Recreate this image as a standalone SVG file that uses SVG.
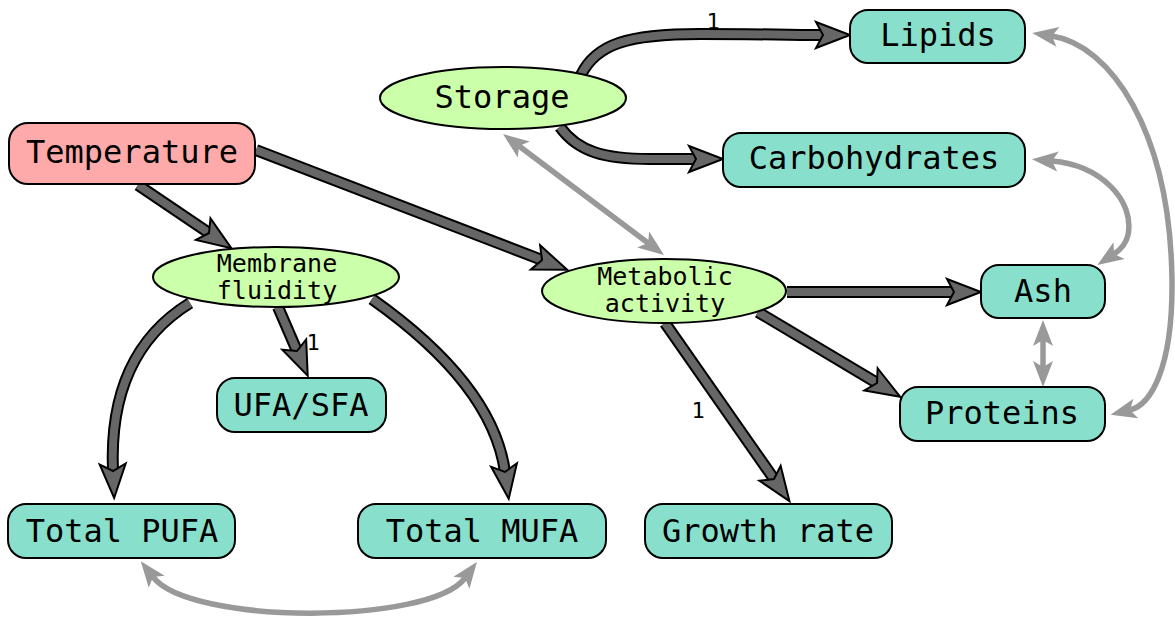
<svg xmlns="http://www.w3.org/2000/svg" width="1175" height="629" viewBox="0 0 1175 629">
<style>
.box{fill:#88e0cc;stroke:#000;stroke-width:2}
.temp{fill:#ffaaaa;stroke:#000;stroke-width:2}
.ell{fill:#ccffaa;stroke:#000;stroke-width:2}
.t{font-family:"DejaVu Sans Mono",monospace;font-size:32px;text-anchor:middle;fill:#000}
.ts{font-family:"DejaVu Sans Mono",monospace;font-size:25px;text-anchor:middle;fill:#000}
.lbl{font-family:"DejaVu Sans Mono",monospace;font-size:22px;text-anchor:middle;fill:#000}
.eo{fill:none;stroke:#000;stroke-width:12}
.ei{fill:none;stroke:#666;stroke-width:8;marker-end:url(#dh)}
.g{fill:none;stroke:#999;stroke-width:5.5;marker-start:url(#gh);marker-end:url(#gh)}
</style>
<defs>
<marker id="dh" markerUnits="userSpaceOnUse" markerWidth="36" markerHeight="30" refX="7" refY="14" orient="auto" overflow="visible">
<path d="M0,1 L34,14 L0,27 L7,14 Z" fill="#666" stroke="#000" stroke-width="2" stroke-linejoin="miter"/>
</marker>
<marker id="gh" markerUnits="userSpaceOnUse" markerWidth="28" markerHeight="22" refX="6" refY="11" orient="auto-start-reverse" overflow="visible">
<path d="M0,1 L26,11 L0,21 L6,11 Z" fill="#999"/>
</marker>
</defs>
<g id="connectors">
<g id="e-temp-mem"><path class="eo" d="M138,185 L209,233"/><path class="ei" d="M138,185 L209,233"/></g>
<g id="e-temp-met"><path class="eo" d="M256,150 L542,260"/><path class="ei" d="M256,150 L542,260"/></g>
<g id="e-sto-lip"><path class="eo" d="M581,75 C596,44 628,34 700,34 C760,34 800,35 823,35"/><path class="ei" d="M581,75 C596,44 628,34 700,34 C760,34 800,35 823,35"/></g>
<g id="e-sto-car"><path class="eo" d="M560,127 C578,152 605,159 650,159 L696,159"/><path class="ei" d="M560,127 C578,152 605,159 650,159 L696,159"/></g>
<g id="e-mem-pufa"><path class="eo" d="M190,303 C130,340 110,400 113,471"/><path class="ei" d="M190,303 C130,340 110,400 113,471"/></g>
<g id="e-mem-ufa"><path class="eo" d="M278,307 L297,351"/><path class="ei" d="M278,307 L297,351"/></g>
<g id="e-mem-mufa"><path class="eo" d="M372,299 C430,340 495,400 505,472"/><path class="ei" d="M372,299 C430,340 495,400 505,472"/></g>
<g id="e-met-ash"><path class="eo" d="M787,292 L954,292"/><path class="ei" d="M787,292 L954,292"/></g>
<g id="e-met-pro"><path class="eo" d="M758,312 L877,383"/><path class="ei" d="M758,312 L877,383"/></g>
<g id="e-met-gro"><path class="eo" d="M665,323 L774,479"/><path class="ei" d="M665,323 L774,479"/></g>
<path id="g-sto-met" class="g" d="M519,146 L648,243"/>
<path id="g-lip-pro" class="g" d="M1052,36 C1110,45 1170,130 1172,280 C1173,370 1150,405 1130,410"/>
<path id="g-car-ash" class="g" d="M1052,161 C1100,165 1135,200 1128,235 C1126,244 1120,250 1114,254"/>
<path id="g-ash-pro" class="g" d="M1043,340 L1043,367"/>
<path id="g-pufa-mufa" class="g" d="M153,577 C190,625 430,625 465,578"/>
<text class="lbl" x="713" y="29">1</text>
<text class="lbl" x="313" y="350">1</text>
<text class="lbl" x="698" y="418">1</text>
</g>
<g id="temperature"><rect class="temp" x="9" y="123" width="246" height="61" rx="19"/><text class="t" x="132" y="163">Temperature</text></g>
<g id="storage"><ellipse class="ell" cx="503" cy="98" rx="123" ry="31"/><text class="t" x="502" y="108">Storage</text></g>
<g id="membrane"><ellipse class="ell" cx="276" cy="277" rx="123" ry="30"/><text class="ts" x="277" y="272">Membrane</text><text class="ts" x="277" y="299">fluidity</text></g>
<g id="metabolic"><ellipse class="ell" cx="664" cy="291" rx="122" ry="32"/><text class="ts" x="665" y="285">Metabolic</text><text class="ts" x="665" y="312">activity</text></g>
<g id="lipids"><rect class="box" x="850" y="10" width="175" height="53" rx="18"/><text class="t" x="938" y="46">Lipids</text></g>
<g id="carbohydrates"><rect class="box" x="723" y="133" width="302" height="54" rx="18"/><text class="t" x="874" y="169">Carbohydrates</text></g>
<g id="ash"><rect class="box" x="981" y="265" width="124" height="53" rx="18"/><text class="t" x="1043" y="302">Ash</text></g>
<g id="proteins"><rect class="box" x="900" y="387" width="205" height="54" rx="18"/><text class="t" x="1002" y="424">Proteins</text></g>
<g id="ufasfa"><rect class="box" x="217" y="378" width="169" height="54" rx="18"/><text class="t" x="301" y="416">UFA/SFA</text></g>
<g id="totalpufa"><rect class="box" x="8" y="504" width="227" height="54" rx="18"/><text class="t" x="122" y="542">Total PUFA</text></g>
<g id="totalmufa"><rect class="box" x="358" y="504" width="248" height="54" rx="18"/><text class="t" x="482" y="542">Total MUFA</text></g>
<g id="growth"><rect class="box" x="645" y="504" width="247" height="54" rx="18"/><text class="t" x="768" y="542">Growth rate</text></g>
</svg>
